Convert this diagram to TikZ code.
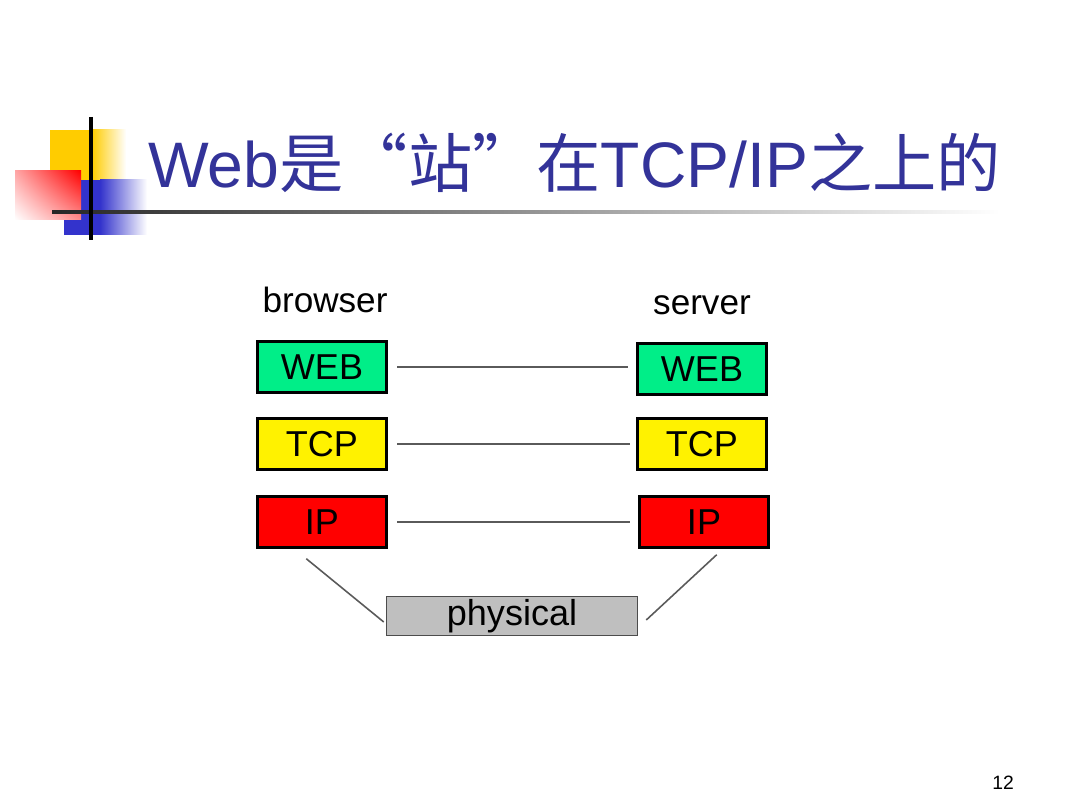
\documentclass[tikz,border=0pt]{standalone}
\usepackage{fontspec}
\setmainfont{Liberation Sans}
\newfontfamily\cjk{Noto Sans CJK SC}
\usepackage{tikz}
\usetikzlibrary{calc,shadings}

\definecolor{titleblue}{RGB}{51,51,153}
\definecolor{webgreen}{RGB}{0,238,136}
\definecolor{logoyellow}{RGB}{255,204,0}
\definecolor{logoblue}{RGB}{51,51,204}
\definecolor{linkgray}{RGB}{90,90,90}

\tikzset{
  layer/.style={draw=black, line width=1.4pt, minimum width=2.58cm, minimum height=1.02cm,
    inner sep=0pt, font=\fontsize{20.5}{24}\selectfont},
  link/.style={draw=linkgray, line width=0.9pt}
}

\begin{document}
\begin{tikzpicture}[x=0.02cm,y=-0.02cm]
        \useasboundingbox (0,0) rectangle (1080,810);

        % logo
        \fill[logoyellow] (50,130) rectangle (92,180);
        \shade[left color=logoyellow, right color=white] (92,130) rectangle (126,180);
        \fill[logoblue] (64,180) rectangle (100,235);
        \shade[left color=logoblue, right color=white] (100,180) rectangle (147,235);
        \shade[upper right=red, upper left=red!35, lower right=red!45, lower left=white] (15,171) rectangle (81,220);
        \shade[left color=black!85, right color=white] (52,210.5) rectangle (1000,213.5);
        \draw[line width=2.3pt] (91,117) -- (91,240);

        \node[anchor=base west, text=titleblue, font=\fontsize{36.6}{40}\selectfont, inner sep=0pt] (title) at (148,188) {Web{\cjk 是“站”在}TCP/IP{\cjk 之上的}};

        \node[anchor=base, font=\fontsize{20}{24}\selectfont] (browser) at (325,313) {browser};
        \node[anchor=base, font=\fontsize{20}{24}\selectfont] (server) at (702,315) {server};

        \node[layer, fill=webgreen] (bweb) at (322,367) {WEB};
        \node[layer, fill=yellow] (btcp) at (322,444) {TCP};
        \node[layer, fill=red] (bip) at (322,522) {IP};

        \node[layer, fill=webgreen] (sweb) at (702,369) {WEB};
        \node[layer, fill=yellow] (stcp) at (702,444) {TCP};
        \node[layer, fill=red] (sip) at (704,522) {IP};

        \node[layer, fill=black!25, draw=black!70, line width=0.9pt, minimum width=5.02cm, minimum height=0.78cm] (phys) at (512,616) {physical};

        \draw[link, shorten <=5.5pt, shorten >=4.5pt] (bweb.east) -- (bweb.east -| sweb.west);
        \draw[link, shorten <=5.5pt, shorten >=3.5pt] (btcp.east) -- (btcp.east -| stcp.west);
        \draw[link, shorten <=5.5pt, shorten >=4.5pt] (bip.east) -- (bip.east -| sip.west);

        \draw[link] ($(bip.south west)+(50,10)$) -- ($(phys.west)+(-2,6)$);
        \draw[link] ($(sip.south east)+(-53,6)$) -- ($(phys.east)+(8,4)$);

        \node[font=\fontsize{11}{13}\selectfont] (page) at (1003,783) {12};
\end{tikzpicture}
\end{document}
